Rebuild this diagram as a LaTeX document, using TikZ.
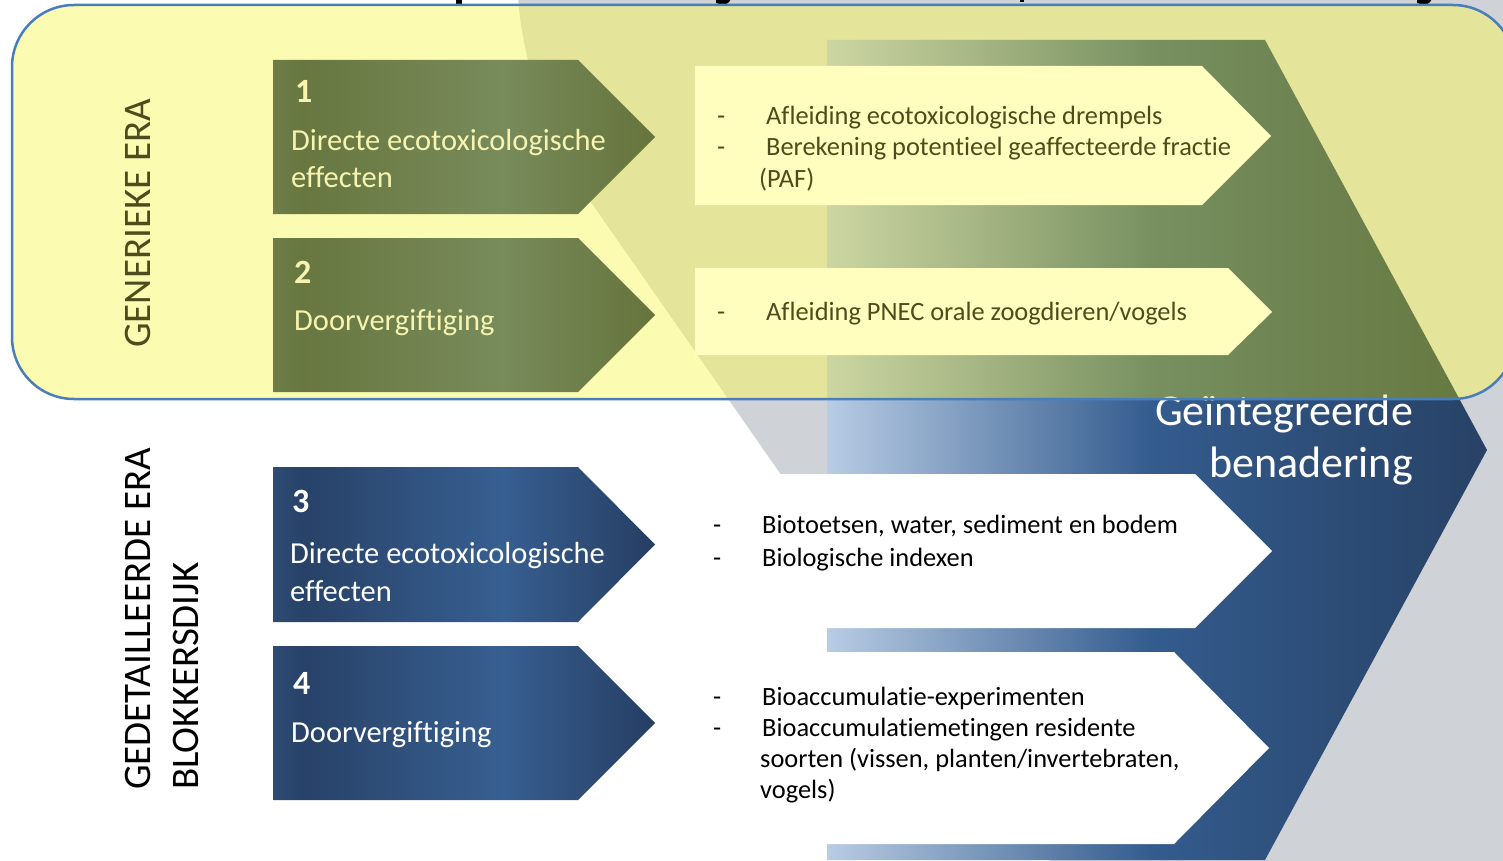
\documentclass[tikz,border=0pt]{standalone}
\usepackage{fontspec}
\setmainfont{Carlito}[Ligatures=NoCommon]

% plain colours
\definecolor{paleY}{RGB}{252,251,178}
\definecolor{boxY}{RGB}{255,254,190}
\definecolor{greyY}{RGB}{228,228,154}
\definecolor{greyBg}{RGB}{207,211,215}
\definecolor{frameBlue}{RGB}{74,126,187}
\definecolor{oliveText}{RGB}{78,76,28}
\definecolor{paleText}{RGB}{246,244,176}

% big chevron, blue
\definecolor{cbA}{RGB}{184,204,228}
\definecolor{cbB}{RGB}{52,92,142}
\definecolor{cbC}{RGB}{46,80,124}
\definecolor{cbD}{RGB}{40,66,102}
\pgfdeclarehorizontalshading{chevblue}{100bp}{color(0bp)=(cbA); color(25bp)=(cbA); color(49.5bp)=(cbB); color(60bp)=(cbC); color(75bp)=(cbD); color(100bp)=(cbD)}
% big chevron, green
\definecolor{cgA}{RGB}{204,214,162}
\definecolor{cgB}{RGB}{120,144,96}
\definecolor{cgC}{RGB}{110,132,82}
\definecolor{cgD}{RGB}{102,120,64}
\pgfdeclarehorizontalshading{chevgreen}{100bp}{color(0bp)=(cgA); color(25bp)=(cgA); color(49.5bp)=(cgB); color(60bp)=(cgC); color(75bp)=(cgD); color(100bp)=(cgD)}
% step boxes, blue
\definecolor{bbA}{RGB}{46,76,116}
\definecolor{bbB}{RGB}{40,66,104}
\definecolor{bbC}{RGB}{55,95,145}
\definecolor{bbD}{RGB}{38,62,98}
\pgfdeclarehorizontalshading{boxblue}{100bp}{color(0bp)=(bbA); color(25bp)=(bbA); color(29bp)=(bbB); color(55bp)=(bbC); color(75bp)=(bbD); color(100bp)=(bbD)}
% step boxes, green
\definecolor{gbA}{RGB}{110,126,72}
\definecolor{gbB}{RGB}{104,119,64}
\definecolor{gbC}{RGB}{120,139,91}
\definecolor{gbD}{RGB}{102,116,60}
\pgfdeclarehorizontalshading{boxgreen}{100bp}{color(0bp)=(gbA); color(25bp)=(gbA); color(29bp)=(gbB); color(55bp)=(gbC); color(75bp)=(gbD); color(100bp)=(gbD)}

\begin{document}
\begin{tikzpicture}[x=1pt,y=-1pt,
  lbl/.style={inner sep=0pt, anchor=base west},
  boxnum/.style={lbl, font=\fontsize{34}{40}\selectfont\bfseries},
  boxtxt/.style={lbl, font=\fontsize{30.5}{37}\selectfont},
  itemtxt/.style={lbl, font=\fontsize{26.4}{31}\selectfont},
  sidetxt/.style={lbl, rotate=90, font=\fontsize{39}{47}\selectfont},
  bigtxt/.style={inner sep=0pt, anchor=base east, font=\fontsize{44}{52}\selectfont},
]
\useasboundingbox (0,0) rectangle (1503,861);
\clip (0,0) rectangle (1503,861);
\fill[white] (0,0) rectangle (1503,861);

% grey backdrop on the right
\fill[greyBg] (518,-5) .. controls (522,70) and (555,150) .. (593,205)
  -- (1060,875) -- (1520,875) -- (1520,-5) -- cycle;

% descenders of the heading above the band
\fill[black] (456,-1) rectangle (462,4);
\fill[black] (716,-1) -- (731,-1) -- (729,2) .. controls (727,5) and (721,5) .. (716,3) -- cycle;
\fill[black] (1020,-1) rectangle (1024,2);
\fill[black] (1417,-1) -- (1432,-1) -- (1430,2) .. controls (1428,5) and (1422,5) .. (1417,3) -- cycle;

% big chevron
\shade[shading=chevblue] (827,40) -- (1265,40) -- (1487,450) -- (1265,860) -- (827,860) -- cycle;

% lower step boxes
\shade[shading=boxblue] (273,467) -- (578,467) -- (655,544.5) -- (578,622) -- (273,622) -- cycle;
\shade[shading=boxblue] (273,646) -- (578,646) -- (655,723) -- (578,800) -- (273,800) -- cycle;

% lower item boxes
\fill[white] (695,474) -- (1195,474) -- (1272,551) -- (1195,628) -- (695,628) -- cycle;
\fill[white] (695,652) -- (1174,652) -- (1269,748) -- (1174,844) -- (695,844) -- cycle;

% lower texts
\node[boxnum, text=white] (n3) at (292,512) {3};
\node[boxtxt, text=white] (t3a) at (290,563) {Directe ecotoxicologische};
\node[boxtxt, text=white] (t3b) at (290,601) {effecten};
\node[boxnum, text=white] (n4) at (293,694) {4};
\node[boxtxt, text=white] (t4a) at (291,742) {Doorvergiftiging};

\node[itemtxt] (dc1) at (713,533) {-};
\node[itemtxt] (ic1) at (762,533) {Biotoetsen, water, sediment en bodem};
\node[itemtxt] (dc2) at (713,566) {-};
\node[itemtxt] (ic2) at (762,566) {Biologische indexen};

\node[itemtxt] (dd1) at (713,705) {-};
\node[itemtxt] (id1) at (762,705) {Bioaccumulatie-experimenten};
\node[itemtxt] (dd2) at (713,736) {-};
\node[itemtxt] (id2) at (762,736) {Bioaccumulatiemetingen residente};
\node[itemtxt] (id3) at (760,767) {soorten (vissen, planten/invertebraten,};
\node[itemtxt] (id4) at (760,798) {vogels)};

\node[sidetxt] (side2a) at (150,790) {GEDETAILLEERDE ERA};
\node[sidetxt] (side2b) at (198,790) {BLOKKERSDIJK};

\node[bigtxt, text=white] (int1) at (1413,425) {Geïntegreerde};
\node[bigtxt, text=white] (int2) at (1413,477) {benadering};

% upper band
\begin{scope}
  \clip[rounded corners=62] (12,5) rectangle (1515,399);
  \fill[paleY] (0,0) rectangle (1520,420);
  \fill[greyY] (518,-5) .. controls (522,70) and (555,150) .. (593,205)
    -- (1060,875) -- (1520,875) -- (1520,-5) -- cycle;
  \shade[shading=chevgreen] (827,40) -- (1265,40) -- (1487,450) -- (1265,860) -- (827,860) -- cycle;
  \shade[shading=boxgreen] (273,60) -- (578,60) -- (655,137) -- (578,214) -- (273,214) -- cycle;
  \shade[shading=boxgreen] (273,238) -- (578,238) -- (655,315) -- (578,392) -- (273,392) -- cycle;
  \fill[boxY] (695,66) -- (1202,66) -- (1271,136) -- (1202,205) -- (695,205) -- cycle;
  \fill[boxY] (695,268) -- (1228,268) -- (1272,312) -- (1228,355) -- (695,355) -- cycle;

  \node[boxnum, text=paleText] (n1) at (295,103) {1};
  \node[boxtxt, text=paleText] (t1a) at (291,151) {Directe ecotoxicologische};
  \node[boxtxt, text=paleText] (t1b) at (291,188) {effecten};
  \node[boxnum, text=paleText] (n2) at (294,283) {2};
  \node[boxtxt, text=paleText] (t2a) at (294,330) {Doorvergiftiging};

  \node[itemtxt, text=oliveText] (da1) at (717,125) {-};
  \node[itemtxt, text=oliveText] (ia1) at (766,125) {Afleiding ecotoxicologische drempels};
  \node[itemtxt, text=oliveText] (da2) at (717,156) {-};
  \node[itemtxt, text=oliveText] (ia2) at (766,156) {Berekening potentieel geaffecteerde fractie};
  \node[itemtxt, text=oliveText] (ia3) at (759,187) {(PAF)};
  \node[itemtxt, text=oliveText] (db1) at (717,320) {-};
  \node[itemtxt, text=oliveText] (ib1) at (766,320) {Afleiding PNEC orale zoogdieren/vogels};

  \node[sidetxt, text=oliveText] (side1) at (150,348) {GENERIEKE ERA};
  \node[bigtxt, text=paleText] (int1top) at (1413,425) {Geïntegreerde};
\end{scope}
\draw[frameBlue, line width=2.5, rounded corners=62] (12,5) rectangle (1515,399);
\end{tikzpicture}
\end{document}
